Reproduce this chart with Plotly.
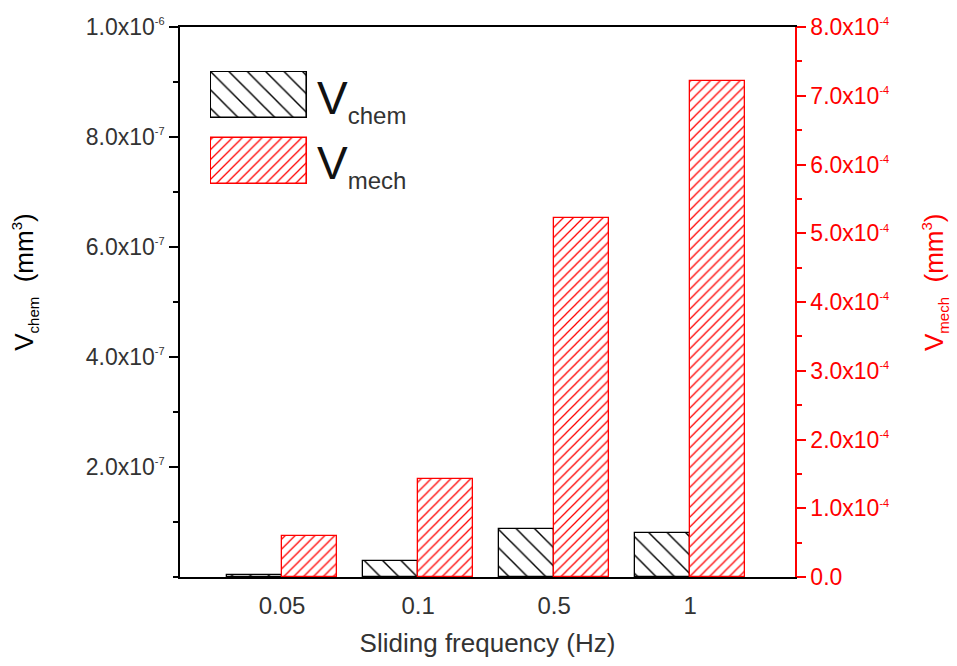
import plotly.graph_objects as go

categories = ["0.05", "0.1", "0.5", "1"]
v_chem = [3.5e-9, 2.9e-8, 8.7e-8, 8.0e-8]
v_mech = [6.0e-5, 1.43e-4, 5.22e-4, 7.22e-4]
series_names = ["chem", "mech"]

left_vals = [2e-7, 4e-7, 6e-7, 8e-7, 1e-6]
left_text = ["2.0x10", "4.0x10", "6.0x10", "8.0x10", "1.0x10"]
left_exp = ["-7", "-7", "-7", "-7", "-6"]
right_vals = [0, 1e-4, 2e-4, 3e-4, 4e-4, 5e-4, 6e-4, 7e-4, 8e-4]
right_text = ["0.0"] + [f"{i}.0x10" for i in range(1, 9)]
right_exp = [""] + ["-4"] * 8

FONT = "Liberation Sans, Arial, sans-serif"
RED = "#ff0000"
GRAY = "#333333"

def sup(t, e, size=11):
    return t if not e else f"{t}<sup><span style='font-size:{size}px'>{e}</span></sup>"

chem_marker = dict(color="white", line=dict(color="black", width=1.3),
                   pattern=dict(shape="\\", fgcolor="black", bgcolor="white", fgopacity=1,
                                size=13, solidity=0.11))
mech_marker = dict(color="white", line=dict(color=RED, width=1.3),
                   pattern=dict(shape="/", fgcolor=RED, bgcolor="white", fgopacity=1,
                                size=7, solidity=0.18))

fig = go.Figure()
fig.add_trace(go.Bar(
    x=list(range(len(categories))), y=v_chem, yaxis="y",
    width=0.405, offset=-0.405, marker=chem_marker, showlegend=False))
fig.add_trace(go.Bar(
    x=list(range(len(categories))), y=v_mech, yaxis="y2",
    width=0.405, offset=0, marker=mech_marker, showlegend=False))

# legend swatches on inset axes
fig.add_trace(go.Bar(
    x=[1], y=[1], orientation="h", xaxis="x3", yaxis="y3", width=0.7,
    marker=dict(chem_marker, line=dict(color="black", width=1.6)),
    showlegend=False, hoverinfo="skip"))
fig.add_trace(go.Bar(
    x=[1], y=[0], orientation="h", xaxis="x3", yaxis="y3", width=0.7,
    marker=dict(mech_marker, line=dict(color=RED, width=1.6)),
    showlegend=False, hoverinfo="skip"))

for nm, yy in zip(series_names, [0.866, 0.748]):
    fig.add_annotation(
        xref="paper", yref="paper", x=0.22, y=yy, xanchor="left", yanchor="middle",
        text=f"V<sub><span style='font-size:24px;fill:#333'>{nm}</span></sub>",
        showarrow=False, font=dict(family=FONT, size=46, color="#111111"))

# axis titles as rotated annotations
fig.add_annotation(
    xref="paper", yref="paper", x=-0.252, y=0.535, xanchor="center", yanchor="middle",
    textangle=-90, showarrow=False, font=dict(family=FONT, size=26, color="black"),
    text="V<sub><span style='font-size:15px'>chem</span></sub>  (mm<sup><span style='font-size:15px'>3</span></sup>)")
fig.add_annotation(
    xref="paper", yref="paper", x=1.228, y=0.535, xanchor="center", yanchor="middle",
    textangle=-90, showarrow=False, font=dict(family=FONT, size=26, color=RED),
    text="V<sub><span style='font-size:15px'>mech</span></sub>  (mm<sup><span style='font-size:15px'>3</span></sup>)")

fig.update_layout(
    width=957, height=666,
    margin=dict(l=180, r=162, t=27, b=89),
    paper_bgcolor="white", plot_bgcolor="white",
    font=dict(family=FONT, color=GRAY),
    xaxis=dict(
        range=[-0.75, 3.77], tickvals=list(range(len(categories))), ticktext=categories,
        showline=True, linecolor="black", linewidth=1.5, mirror=True,
        ticks="outside", ticklen=6, tickcolor="rgba(0,0,0,0)",
        showgrid=False, zeroline=False, tickfont=dict(size=24, color=GRAY),
        title=dict(text="Sliding frequency (Hz)", font=dict(size=26, color=GRAY), standoff=16)),
    yaxis=dict(
        range=[0, 1e-6], tickmode="array", tickvals=left_vals,
        ticktext=[sup(t, e) for t, e in zip(left_text, left_exp)],
        showline=True, linecolor="black", linewidth=1.5, ticks="outside", ticklen=9,
        tickwidth=1.5, tickcolor="black",
        minor=dict(ticks="outside", ticklen=5, dtick=1e-7, tick0=0, tickcolor="black", tickwidth=1.5),
        showgrid=False, zeroline=False, tickfont=dict(size=23, color=GRAY)),
    yaxis2=dict(
        range=[0, 8e-4], overlaying="y", side="right", tickmode="array", tickvals=right_vals,
        ticktext=[sup(t, e) for t, e in zip(right_text, right_exp)],
        showline=True, linecolor=RED, linewidth=1.5, ticks="outside", ticklen=9,
        tickwidth=1.5, tickcolor=RED,
        minor=dict(ticks="outside", ticklen=5, dtick=5e-5, tick0=0, tickcolor=RED, tickwidth=1.5),
        showgrid=False, zeroline=False, tickfont=dict(size=23, color=RED)),
    xaxis3=dict(domain=[0.0488, 0.208], anchor="y3", range=[-0.012, 1.012], visible=False, fixedrange=True),
    yaxis3=dict(domain=[0.7127, 0.92], anchor="x3", range=[-0.37, 1.37], visible=False, fixedrange=True),
    barmode="overlay", bargap=0,
)

fig.write_html("out.html")
